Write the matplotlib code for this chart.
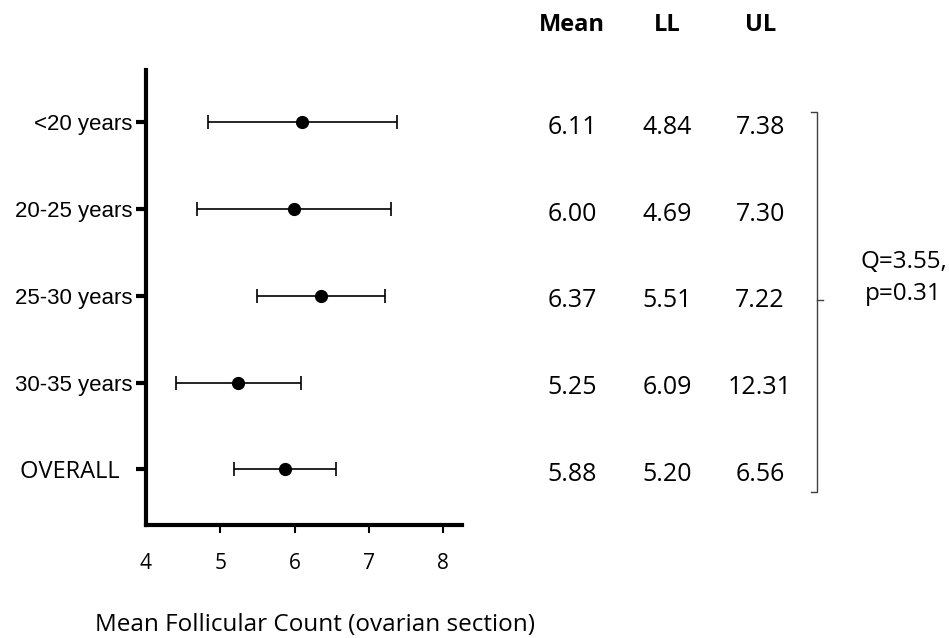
import numpy as np
import matplotlib
matplotlib.use("Agg")
import matplotlib.pyplot as plt
from matplotlib.transforms import blended_transform_factory

# groups, top to bottom
groups = ["<20 years", "20-25 years", "25-30 years", "30-35 years", "OVERALL  "]
# plotted values
mean_vals = [6.10, 5.99, 6.36, 5.24, 5.87]
lower_vals = [4.83, 4.69, 5.50, 4.41, 5.19]
upper_vals = [7.38, 7.29, 7.21, 6.09, 6.55]
# table text as printed
tbl_mean = ["6.11", "6.00", "6.37", "5.25", "5.88"]
tbl_ll = ["4.84", "4.69", "5.51", "6.09", "5.20"]
tbl_ul = ["7.38", "7.30", "7.22", "12.31", "6.56"]
xticks = [4, 5, 6, 7, 8]
stat_text = "Q=3.55,\np=0.31"
xlabel = "Mean Follicular Count (ovarian section)"

CAL = "Open Sans"
ARIAL = "Liberation Sans"

fig = plt.figure(figsize=(9.49, 6.38), dpi=100)
ax = fig.add_axes([0.1538, 0.1771, 0.333, 0.7132])

ypos = np.arange(len(groups))[::-1]
mean_arr = np.array(mean_vals)
err = [mean_arr - np.array(lower_vals), np.array(upper_vals) - mean_arr]
ax.errorbar(mean_arr, ypos, xerr=err, fmt="o", color="black", ms=8.5,
            elinewidth=1.2, capsize=5, capthick=1.2)

ax.set_xlim(4, 8.25)
ax.set_ylim(-0.64, 4.6)
ax.set_xticks(xticks)
ax.set_xticklabels([str(t) for t in xticks], fontfamily=CAL, fontsize=15)
ax.set_yticks(ypos)
ax.set_yticklabels(groups, fontfamily=ARIAL, fontsize=16)
ax.get_yticklabels()[-1].set_fontfamily(CAL)
ax.get_yticklabels()[-1].set_fontsize(17)

for s in ["top", "right"]:
    ax.spines[s].set_visible(False)
for s in ["left", "bottom"]:
    ax.spines[s].set_linewidth(3)
ax.tick_params(axis="x", length=6, width=1.5, pad=14)
ax.tick_params(axis="y", length=7, width=3, pad=3)
ax.xaxis.get_major_ticks()[0].tick1line.set_visible(False)

ax.set_xlabel(xlabel, fontfamily=CAL, fontsize=17.5, labelpad=28, x=0.535)

# table on the right
tr = blended_transform_factory(fig.transFigure, ax.transData)
col_x = [0.603, 0.703, 0.801]
heads = ["Mean", "LL", "UL"]
for cx, h in zip(col_x, heads):
    fig.text(cx, 1 - 25 / 638, h, ha="center", va="center", fontfamily=CAL,
             fontsize=17, fontweight="bold")
for cx, col in zip(col_x, [tbl_mean, tbl_ll, tbl_ul]):
    for y, v in zip(ypos, col):
        ax.text(cx, y - 0.06, v, transform=tr, ha="center", va="center",
                fontfamily=CAL, fontsize=18, clip_on=False)

# bracket
bx = 0.861
ax.plot([bx - 0.006, bx, bx, bx - 0.006], [4.12, 4.12, -0.26, -0.26],
        transform=tr, color="#404040", lw=1, clip_on=False)
ax.plot([bx, bx + 0.006], [1.95, 1.95], transform=tr, color="#404040",
        lw=1, clip_on=False)
ax.text(0.952, 2.2, stat_text, transform=tr, ha="center", va="center",
        fontfamily=CAL, fontsize=17.5, linespacing=1.45, clip_on=False)

fig.savefig("out.png", dpi=100)
